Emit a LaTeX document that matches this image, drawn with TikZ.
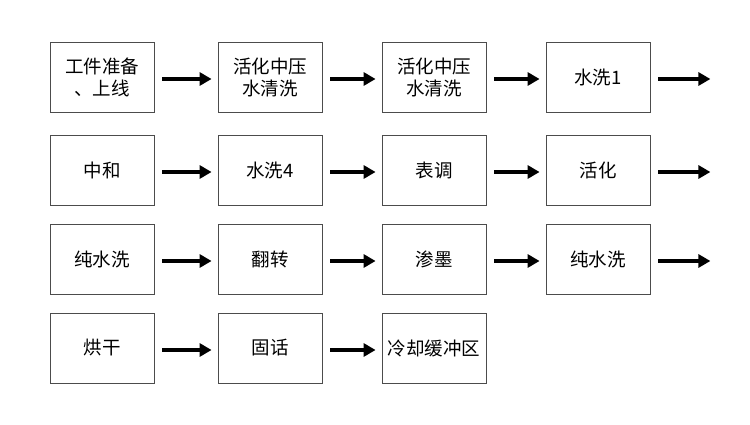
\documentclass[tikz,border=0pt]{standalone}
\usepackage{fontspec}
\newfontfamily\cjk{Noto Sans CJK SC}
\usetikzlibrary{arrows.meta}
\begin{document}
\begin{tikzpicture}[x=1pt,y=-1pt,
  box/.style={draw=black!70,line width=0.8pt,minimum width=104pt,minimum height=70pt,inner sep=0pt,align=center,font=\cjk\fontsize{18.5}{22}\selectfont},
  arr/.style={line width=4.5pt,-{Triangle[length=12pt,width=13pt]}}]
\useasboundingbox (0,0) rectangle (750,425);
\def\xa{102}\def\xb{270}\def\xc{434}\def\xd{598}
\node[box] (a1) at (\xa,77) {工件准备\\、上线};
\node[box] (a2) at (\xb,77) {活化中压\\水清洗};
\node[box] (a3) at (\xc,77) {活化中压\\水清洗};
\node[box] (a4) at (\xd,77) {水洗1};
\node[box] (b1) at (\xa,170) {中和};
\node[box] (b2) at (\xb,170) {水洗4};
\node[box] (b3) at (\xc,170) {表调};
\node[box] (b4) at (\xd,170) {活化};
\node[box] (c1) at (\xa,259) {纯水洗};
\node[box] (c2) at (\xb,259) {翻转};
\node[box] (c3) at (\xc,259) {渗墨};
\node[box] (c4) at (\xd,259) {纯水洗};
\node[box] (d1) at (\xa,348) {烘干};
\node[box] (d2) at (\xb,348) {固话};
\node[box] (d3) at (\xc,348) {冷却缓冲区};
\foreach \r in {a,b,c}{
  \draw[arr] ([shift={(8,2)}]\r1.east) -- ([shift={(-6,2)}]\r2.west);
  \draw[arr] ([shift={(8,2)}]\r2.east) -- ([shift={(-6,2)}]\r3.west);
  \draw[arr] ([shift={(8,2)}]\r3.east) -- ([shift={(-6,2)}]\r4.west);
  \draw[arr] ([shift={(8,2)}]\r4.east) coordinate (\r s) -- ([xshift=52pt]\r s);
}
\draw[arr] ([shift={(8,2)}]d1.east) -- ([shift={(-6,2)}]d2.west);
\draw[arr] ([shift={(8,2)}]d2.east) -- ([shift={(-6,2)}]d3.west);
\end{tikzpicture}
\end{document}
